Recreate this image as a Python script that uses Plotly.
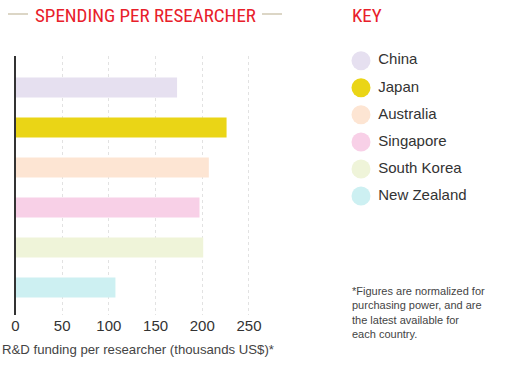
import plotly.graph_objects as go

countries = ["China", "Japan", "Australia", "Singapore", "South Korea", "New Zealand"]
funding = [173, 226, 207, 197, 201, 107]
colors = ["#e6e0f0", "#ead516", "#fde5d3", "#f8d0e7", "#eff4d9", "#cdf0f2"]
tick_vals = [0, 50, 100, 150, 200, 250]

W, H = 510, 367
FONT = "Liberation Sans"
COND = "Roboto Condensed, DejaVu Sans Condensed, Liberation Sans Narrow, sans-serif"

def px_x(p):
    return p / W

def px_y(p):
    return 1 - p / H

fig = go.Figure()

fig.add_trace(go.Bar(
    y=countries, x=funding, orientation="h",
    marker=dict(color=colors, line=dict(width=0)),
    width=0.5, showlegend=False, hoverinfo="x+y",
    xaxis="x", yaxis="y",
))

# key (legend) drawn on a second axis pair
fig.add_trace(go.Scatter(
    x=[0.1235] * len(countries), y=countries, mode="markers",
    marker=dict(size=19, color=colors, line=dict(width=0)),
    showlegend=False, xaxis="x2", yaxis="y2", hoverinfo="skip",
))
fig.add_trace(go.Scatter(
    x=[0.225] * len(countries), y=countries, mode="text",
    text=countries, textposition="middle right",
    textfont=dict(family=FONT, size=15, color="#333333"),
    showlegend=False, xaxis="x2", yaxis="y2", hoverinfo="skip",
))

fig.update_layout(
    width=W, height=H,
    margin=dict(l=0, r=0, t=0, b=0),
    paper_bgcolor="white", plot_bgcolor="white",
    font=dict(family=FONT, color="#333333"),
    xaxis=dict(
        domain=[px_x(15.5), px_x(277)], range=[0, 280],
        tickvals=tick_vals, ticks="", showgrid=True,
        gridcolor="#e2e2e2", griddash="dot", gridwidth=1,
        zeroline=False, showline=False,
        tickfont=dict(size=15, color="#333333"),
        automargin=False, fixedrange=True,
    ),
    yaxis=dict(
        domain=[px_y(315), px_y(56)], range=[5.6875, -0.7875],
        type="category", categoryorder="array", categoryarray=countries,
        showticklabels=False, ticks="", showgrid=False,
        showline=True, linecolor="#333333", linewidth=2,
        zeroline=False, automargin=False, fixedrange=True,
    ),
    xaxis2=dict(
        domain=[px_x(340), 1], range=[0, 1], visible=False,
        anchor="y2", fixedrange=True,
    ),
    yaxis2=dict(
        domain=[px_y(210), px_y(47)], range=[5.515, -0.506],
        type="category", categoryorder="array", categoryarray=countries,
        visible=False, anchor="x2", fixedrange=True,
    ),
    annotations=[
        dict(text="SPENDING PER RESEARCHER", x=px_x(145), y=px_y(15),
             xref="paper", yref="paper", xanchor="center", yanchor="middle",
             showarrow=False,
             font=dict(family=COND, size=19, color="#e8202a")),
        dict(text="KEY", x=px_x(350), y=px_y(15),
             xref="paper", yref="paper", xanchor="left", yanchor="middle",
             showarrow=False,
             font=dict(family=COND, size=19, color="#e8202a")),
        dict(text="R&D funding per researcher (thousands US$)*",
             x=0, y=px_y(349), xref="paper", yref="paper",
             xanchor="left", yanchor="middle", showarrow=False,
             font=dict(family=FONT, size=13.2, color="#444444")),
        dict(text="*Figures are normalized for<br>purchasing power, and are<br>the latest available for<br>each country.",
             x=px_x(350), y=px_y(283), xref="paper", yref="paper",
             xanchor="left", yanchor="top", align="left", showarrow=False,
             font=dict(family=FONT, size=11, color="#444444")),
    ],
    shapes=[
        dict(type="line", xref="paper", yref="paper",
             x0=px_x(8), x1=px_x(28), y0=px_y(14), y1=px_y(14),
             line=dict(color="#dcd6c6", width=2)),
        dict(type="line", xref="paper", yref="paper",
             x0=px_x(262), x1=px_x(282), y0=px_y(14), y1=px_y(14),
             line=dict(color="#dcd6c6", width=2)),
    ],
)

fig.write_html("out.html", config={"displayModeBar": False},
               post_script="document.body.style.margin='0px';")
